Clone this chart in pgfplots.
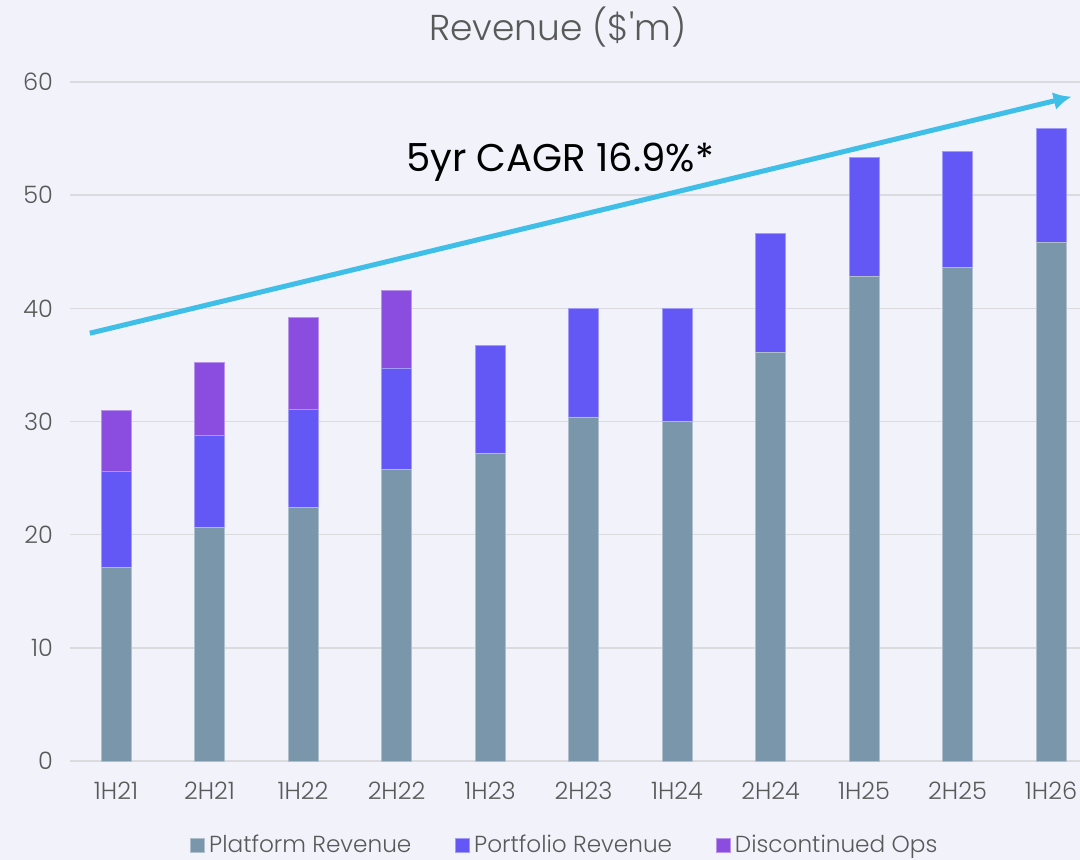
\documentclass[border=0pt]{standalone}
\usepackage{pgfplots}
\pgfplotsset{compat=1.18}
\usetikzlibrary{arrows.meta}
\usepackage{fontspec}
\setmainfont{Poppins}
\newfontfamily\lightfont{Poppins Light}
\definecolor{bg}{HTML}{F1F2FA}
\definecolor{plat}{HTML}{7A96AA}
\definecolor{port}{HTML}{6358F5}
\definecolor{disc}{HTML}{8B4DE0}
\definecolor{arrowc}{HTML}{3FBFE8}
\definecolor{txt}{HTML}{595959}
\definecolor{gridc}{HTML}{DADADF}
\begin{document}
\begin{tikzpicture}
\useasboundingbox[fill=bg] (-35pt,-49.5pt) rectangle (505pt,380.5pt);
\begin{axis}[
  at={(0,0)}, anchor=south west,
  scale only axis, width=505pt, height=339.5pt,
  ymin=0, ymax=60, ytick={0,10,...,60},
  xmin=-0.492, xmax=10.31,
  xtick={0,...,10},
  xticklabels={1H21,2H21,1H22,2H22,1H23,2H23,1H24,2H24,1H25,2H25,1H26},
  ybar stacked, bar width=0.32,
  axis line style={draw=none},
  major tick length=0pt,
  ymajorgrids, grid style={gridc, line width=0.8pt},
  tick label style={font=\lightfont\fontsize{12}{14}\selectfont, text=txt},
  /pgf/number format/assume math mode=true,
  yticklabel style={xshift=-5pt},
  xticklabel style={yshift=-7pt},
  clip=false,
  legend style={at={(0.491,-0.124)}, anchor=center, draw=none, fill=none,
    legend columns=3, font=\lightfont\fontsize{11.6}{13}\selectfont, text=txt,
    /tikz/every even column/.append style={column sep=20pt}},
  legend image code/.code={\fill[#1] (0pt,-3.5pt) rectangle (7pt,3.5pt);},
]
\addplot[fill=plat, draw=plat!60!white, line width=0.4pt] coordinates {(0,17.1) (1,20.6) (2,22.4) (3,25.8) (4,27.2) (5,30.4) (6,30.0) (7,36.1) (8,42.8) (9,43.6) (10,45.8)};
\addlegendentry{Platform Revenue}
\addplot[fill=port, draw=port!60!white, line width=0.4pt] coordinates {(0,8.5) (1,8.2) (2,8.7) (3,8.9) (4,9.5) (5,9.6) (6,10.0) (7,10.5) (8,10.5) (9,10.3) (10,10.1)};
\addlegendentry{Portfolio Revenue}
\addplot[fill=disc, draw=disc!60!white, line width=0.4pt] coordinates {(0,5.4) (1,6.4) (2,8.1) (3,6.9) (4,0) (5,0) (6,0) (7,0) (8,0) (9,0) (10,0)};
\addlegendentry{Discontinued Ops}
\end{axis}
\begin{axis}[
  at={(0,0)}, anchor=south west,
  scale only axis, width=505pt, height=339.5pt,
  ymin=0, ymax=60, xmin=-0.492, xmax=10.31,
  hide axis, clip=false,
]
\addplot[arrowc, line width=2.5pt, -{Latex[length=9pt,width=9pt]}] coordinates {(-0.28,37.8) (10.22,58.7)};
\node[font=\fontsize{19.3}{23}\selectfont, text=black] at (axis cs:4.75,52.9) {5yr CAGR 16.9\%*};
\node[font=\lightfont\fontsize{18}{21}\selectfont, text=txt] at (rel axis cs:0.483,1.081) {Revenue (\$'m)};
\end{axis}
\end{tikzpicture}
\end{document}
